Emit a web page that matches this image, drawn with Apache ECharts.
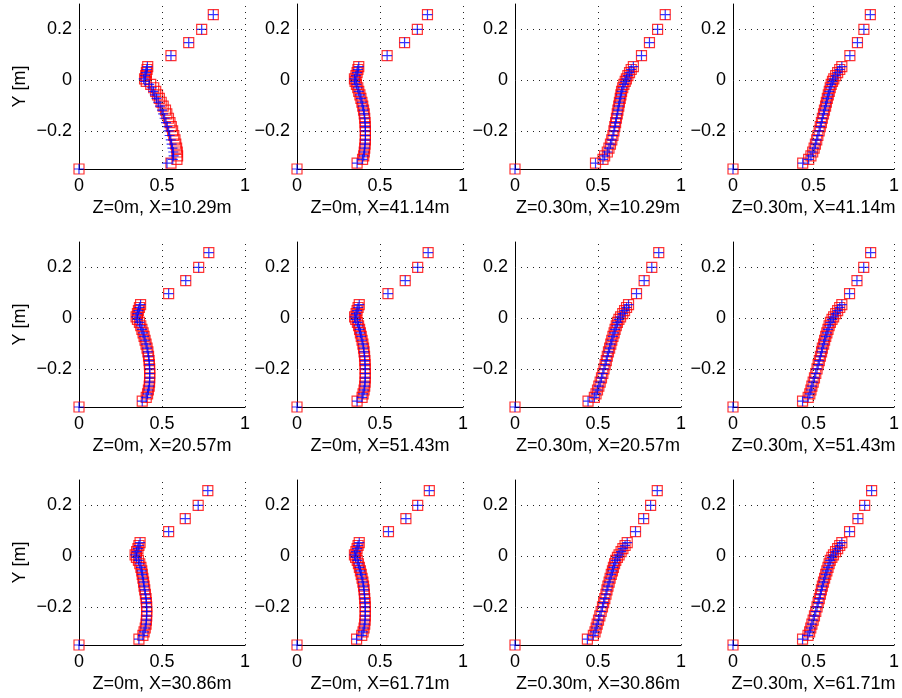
<!DOCTYPE html>
<html>
<head>
<meta charset="utf-8">
<script src="https://cdn.jsdelivr.net/npm/echarts@6/dist/echarts.min.js"></script>
<style>
html,body{margin:0;padding:0;background:#fff;}
#chart{width:902px;height:698px;}
</style>
</head>
<body>
<div id="chart"></div>
<script>
// Shared vertical positions (m)
const yLevels = [-0.35, -0.327, -0.312, -0.298, -0.283, -0.268, -0.252, -0.235, -0.218, -0.2, -0.183, -0.167, -0.15, -0.133, -0.118, -0.102, -0.087, -0.072, -0.058, -0.044, -0.03, -0.017, -0.005, 0.005, 0.018, 0.03, 0.042, 0.053, 0.097, 0.148, 0.2, 0.258];

// Red squares (per panel)
const red_Z0_X1029 = [0, 0.554,0.59,0.594,0.592,0.588,0.583,0.578,0.571,0.564,0.556,0.548,0.539,0.529,0.521,0.507,0.495,0.484,0.473,0.462,0.45,0.432,0.405,0.395,0.402,0.406,0.41,0.414, 0.554,0.661,0.739,0.809];
const red_Z0_X4114 = [0, 0.362,0.395,0.402,0.405,0.408,0.41,0.412,0.412,0.412,0.411,0.41,0.408,0.405,0.401,0.396,0.391,0.385,0.379,0.372,0.366,0.358,0.35,0.346,0.355,0.362,0.367,0.372, 0.543,0.648,0.725,0.786];
const red_Z30_X1029 = [0, 0.485,0.53,0.54,0.556,0.566,0.575,0.583,0.59,0.596,0.601,0.606,0.611,0.616,0.62,0.625,0.629,0.634,0.638,0.642,0.649,0.656,0.664,0.671,0.68,0.69,0.7,0.713, 0.762,0.81,0.859,0.905];
const red_Z30_X4114 = [0, 0.433,0.47,0.484,0.495,0.504,0.512,0.52,0.527,0.535,0.542,0.549,0.555,0.562,0.568,0.575,0.58,0.586,0.592,0.598,0.604,0.61,0.618,0.626,0.638,0.65,0.663,0.676, 0.726,0.773,0.813,0.853];
const red_Z0_X2057 = [0, 0.381,0.405,0.413,0.418,0.423,0.425,0.426,0.426,0.426,0.424,0.422,0.419,0.415,0.41,0.404,0.398,0.392,0.386,0.379,0.372,0.364,0.352,0.344,0.352,0.358,0.364,0.371, 0.54,0.643,0.721,0.782];
const red_Z0_X5143 = [0, 0.362,0.392,0.398,0.404,0.408,0.41,0.411,0.411,0.411,0.41,0.409,0.407,0.404,0.401,0.397,0.392,0.387,0.382,0.377,0.371,0.364,0.354,0.347,0.356,0.362,0.368,0.375, 0.548,0.652,0.727,0.79];
const red_Z30_X2057 = [0, 0.44,0.478,0.488,0.497,0.505,0.513,0.521,0.529,0.536,0.543,0.55,0.556,0.563,0.57,0.577,0.583,0.59,0.597,0.603,0.61,0.617,0.626,0.636,0.649,0.66,0.672,0.684, 0.732,0.778,0.824,0.866];
const red_Z30_X5143 = [0, 0.432,0.467,0.477,0.484,0.49,0.498,0.506,0.514,0.522,0.529,0.536,0.543,0.55,0.555,0.563,0.569,0.576,0.583,0.59,0.597,0.605,0.615,0.625,0.638,0.65,0.663,0.676, 0.724,0.77,0.812,0.855];
const red_Z0_X3086 = [0, 0.361,0.385,0.392,0.399,0.404,0.406,0.408,0.408,0.408,0.406,0.404,0.4,0.396,0.392,0.389,0.385,0.381,0.378,0.373,0.366,0.358,0.346,0.338,0.347,0.355,0.361,0.368, 0.54,0.64,0.718,0.776];
const red_Z0_X6171 = [0, 0.359,0.39,0.398,0.404,0.408,0.41,0.411,0.411,0.411,0.41,0.408,0.406,0.404,0.401,0.397,0.392,0.387,0.382,0.376,0.37,0.363,0.353,0.346,0.355,0.362,0.368,0.375, 0.551,0.656,0.727,0.797];
const red_Z30_X3086 = [0, 0.436,0.472,0.482,0.489,0.495,0.503,0.511,0.519,0.527,0.534,0.541,0.548,0.554,0.56,0.567,0.573,0.58,0.587,0.593,0.6,0.607,0.617,0.627,0.639,0.65,0.663,0.676, 0.726,0.775,0.817,0.857];
const red_Z30_X6171 = [0, 0.432,0.466,0.476,0.483,0.49,0.498,0.506,0.514,0.522,0.529,0.536,0.543,0.549,0.555,0.562,0.569,0.576,0.583,0.59,0.597,0.604,0.614,0.624,0.637,0.65,0.663,0.676, 0.724,0.776,0.818,0.861];

// Blue pluses: first panel differs slightly, others coincide with red
const blue_Z0_X1029 = [0, 0.53,0.565,0.57,0.568,0.563,0.558,0.553,0.546,0.54,0.532,0.524,0.516,0.507,0.5,0.488,0.477,0.467,0.457,0.448,0.438,0.423,0.398,0.39,0.398,0.403,0.408,0.412, 0.554,0.661,0.739,0.809];

const panelTitles = [
  ['Z=0m, X=10.29m','Z=0m, X=41.14m','Z=0.30m, X=10.29m','Z=0.30m, X=41.14m'],
  ['Z=0m, X=20.57m','Z=0m, X=51.43m','Z=0.30m, X=20.57m','Z=0.30m, X=51.43m'],
  ['Z=0m, X=30.86m','Z=0m, X=61.71m','Z=0.30m, X=30.86m','Z=0.30m, X=61.71m']
];
const redPanels = [
  [red_Z0_X1029, red_Z0_X4114, red_Z30_X1029, red_Z30_X4114],
  [red_Z0_X2057, red_Z0_X5143, red_Z30_X2057, red_Z30_X5143],
  [red_Z0_X3086, red_Z0_X6171, red_Z30_X3086, red_Z30_X6171]
];
const bluePanels = [
  [blue_Z0_X1029, red_Z0_X4114, red_Z30_X1029, red_Z30_X4114],
  [red_Z0_X2057, red_Z0_X5143, red_Z30_X2057, red_Z30_X5143],
  [red_Z0_X3086, red_Z0_X6171, red_Z30_X3086, red_Z30_X6171]
];
const yTickValues = [-0.2, 0, 0.2];
const yTickLabels = ['\u22120.2', '0', '0.2'];
const xTickValues = [0, 0.5, 1];
const xTickLabels = ['0', '0.5', '1'];
const yAxisName = 'Y [m]';

const FONT = '"Liberation Sans", Arial, Helvetica, sans-serif';
const colLeft = [79, 297, 515, 733];
const rowTop = [4, 242, 480];
const W = 166, H = 165;

const grids = [], xAxes = [], yAxes = [], series = [];
let k = 0;
for (let r = 0; r < 3; r++) {
  for (let c = 0; c < 4; c++) {
    grids.push({left: colLeft[c], top: rowTop[r], width: W, height: H, containLabel: false});
    xAxes.push({
      type: 'value', gridIndex: k, min: 0, max: 1, interval: 0.5,
      name: panelTitles[r][c], nameLocation: 'middle', nameGap: 30,
      nameTextStyle: {color: '#000', fontSize: 18, fontFamily: FONT},
      axisLine: {show: true, onZero: false, lineStyle: {color: '#000', width: 1}},
      axisTick: {show: false},
      splitLine: {show: false},
      axisLabel: {
        color: '#000', fontSize: 18, fontFamily: FONT, margin: 8,
        formatter: function (v) {
          for (let i = 0; i < xTickValues.length; i++) if (Math.abs(v - xTickValues[i]) < 1e-6) return xTickLabels[i];
          return '';
        }
      }
    });
    yAxes.push({
      type: 'value', gridIndex: k, min: -0.35, max: 0.3, interval: 0.05,
      name: c === 0 ? yAxisName : '', nameLocation: 'middle', nameGap: 50, nameRotate: 90,
      nameTextStyle: {color: '#000', fontSize: 18, fontFamily: FONT},
      axisLine: {show: true, onZero: false, lineStyle: {color: '#000', width: 1}},
      axisTick: {show: false},
      splitLine: {show: false},
      axisLabel: {
        color: '#000', fontSize: 18, fontFamily: FONT, margin: 7,
        formatter: function (v) {
          for (let i = 0; i < yTickValues.length; i++) if (Math.abs(v - yTickValues[i]) < 1e-6) return yTickLabels[i];
          return '';
        }
      }
    });
    // dotted grid lines
    series.push({
      type: 'scatter', xAxisIndex: k, yAxisIndex: k, data: [], z: 1, silent: true,
      markLine: {
        silent: true, symbol: 'none', animation: false,
        label: {show: false},
        lineStyle: {color: '#222', width: 1, type: [1, 5]},
        data: yTickValues.map(v => ({yAxis: v})).concat(xTickValues.slice(1).map(v => ({xAxis: v})))
      }
    });
    const red = redPanels[r][c], blue = bluePanels[r][c];
    series.push({
      type: 'scatter', xAxisIndex: k, yAxisIndex: k, z: 2, clip: false,
      symbol: 'rect', symbolSize: 10,
      itemStyle: {color: 'rgba(0,0,0,0)', borderColor: '#ff0000', borderWidth: 1.2},
      data: red.map((x, i) => [x, yLevels[i]])
    });
    series.push({
      type: 'scatter', xAxisIndex: k, yAxisIndex: k, z: 3, clip: false,
      symbol: 'path://M0,5L10,5M5,0L5,10', symbolSize: 10,
      itemStyle: {color: 'none', borderColor: '#0000ff', borderWidth: 1.2},
      data: blue.map((x, i) => [x, yLevels[i]])
    });
    k++;
  }
}

const chart = echarts.init(document.getElementById('chart'), null, {renderer: 'canvas'});
chart.setOption({
  animation: false,
  backgroundColor: '#fff',
  grid: grids, xAxis: xAxes, yAxis: yAxes, series: series
});
</script>
</body>
</html>
